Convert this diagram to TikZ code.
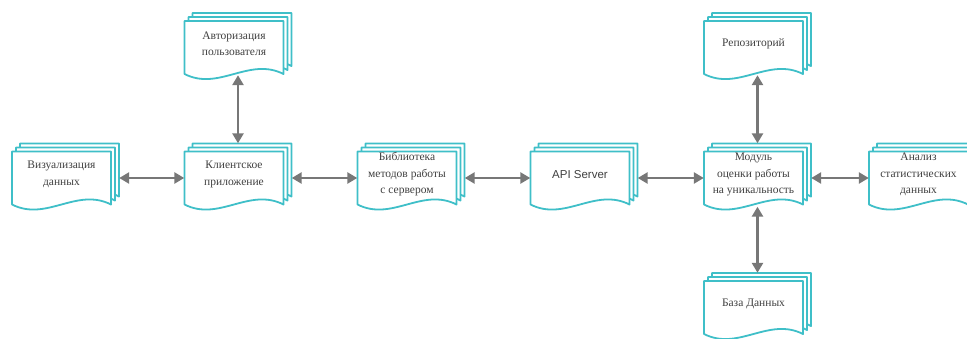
\documentclass[tikz,border=0pt]{standalone}
\usepackage{fontspec}
\setmainfont{Liberation Serif}
\newfontfamily\apifont{Liberation Sans}
\usetikzlibrary{arrows.meta}
\definecolor{tealline}{HTML}{3FBFC8}
\definecolor{arrgray}{HTML}{777777}
\definecolor{txtgray}{HTML}{404040}
\tikzset{
  pagebox/.style={draw=tealline, line width=1.8pt, fill=white, line join=round},
  docpage/.pic={\path[pagebox] (-49.5,-26.5) -- (49.5,-26.5) -- (49.5,26.5)
      .. controls (15,9) and (-15,44) .. (-49.5,26.5) -- cycle;},
  docanchor/.style={minimum width=99pt, minimum height=53pt, inner sep=0pt, draw=none},
  doctext/.style={inner sep=0pt, align=center, text=txtgray,
      font=\fontsize{11.5}{16.5}\selectfont},
  arr/.style={draw=arrgray, line width=2.8pt,
      {Triangle[length=10pt,width=11pt]}-{Triangle[length=10pt,width=11pt]}},
}
\newcommand\docstack[5]{%
  \pic at (#2+8,#3-8) {docpage};
  \pic at (#2+4,#3-4) {docpage};
  \pic at (#2,#3) {docpage};
  \node[docanchor] (#1) at (#2,#3) {};
  \node[doctext] (#1-t) at (#2,#3-3.5) {#5#4};
}
\begin{document}
\begin{tikzpicture}[x=1pt,y=-1pt]
\useasboundingbox (0,0) rectangle (967,338);
\begin{scope}
\clip (0,0) rectangle (967,338);
\docstack{vis}{61.5}{178}{Визуализация\\данных}{}
\docstack{auth}{234}{47.5}{Авторизация\\пользователя}{}
\docstack{client}{234}{178}{Клиентское\\приложение}{}
\docstack{lib}{407}{178}{Библиотека\\методов работы\\с сервером}{}
\docstack{api}{580}{178}{API Server}{\apifont}
\docstack{mod}{753.5}{178}{Модуль\\оценки работы\\на уникальность}{}
\docstack{repo}{753.5}{47.5}{Репозиторий}{}
\docstack{db}{753.5}{307.5}{База Данных}{}
\docstack{anal}{918.5}{178}{Анализ\\статистических\\данных}{}

\draw[arr] ([xshift=8]vis.east) -- (client.west);
\draw[arr] ([xshift=8]client.east) -- (lib.west);
\draw[arr] ([xshift=8]lib.east) -- (api.west);
\draw[arr] ([xshift=8]api.east) -- (mod.west);
\draw[arr] ([xshift=8]mod.east) -- (anal.west);
\draw[arr] ([xshift=4,yshift=-1]auth.south) -- ([xshift=4,yshift=8]client.north);
\draw[arr] ([xshift=4,yshift=-1]repo.south) -- ([xshift=4,yshift=8]mod.north);
\draw[arr] ([xshift=4,yshift=-2]mod.south) -- ([xshift=4,yshift=8]db.north);
\end{scope}
\end{tikzpicture}
\end{document}
